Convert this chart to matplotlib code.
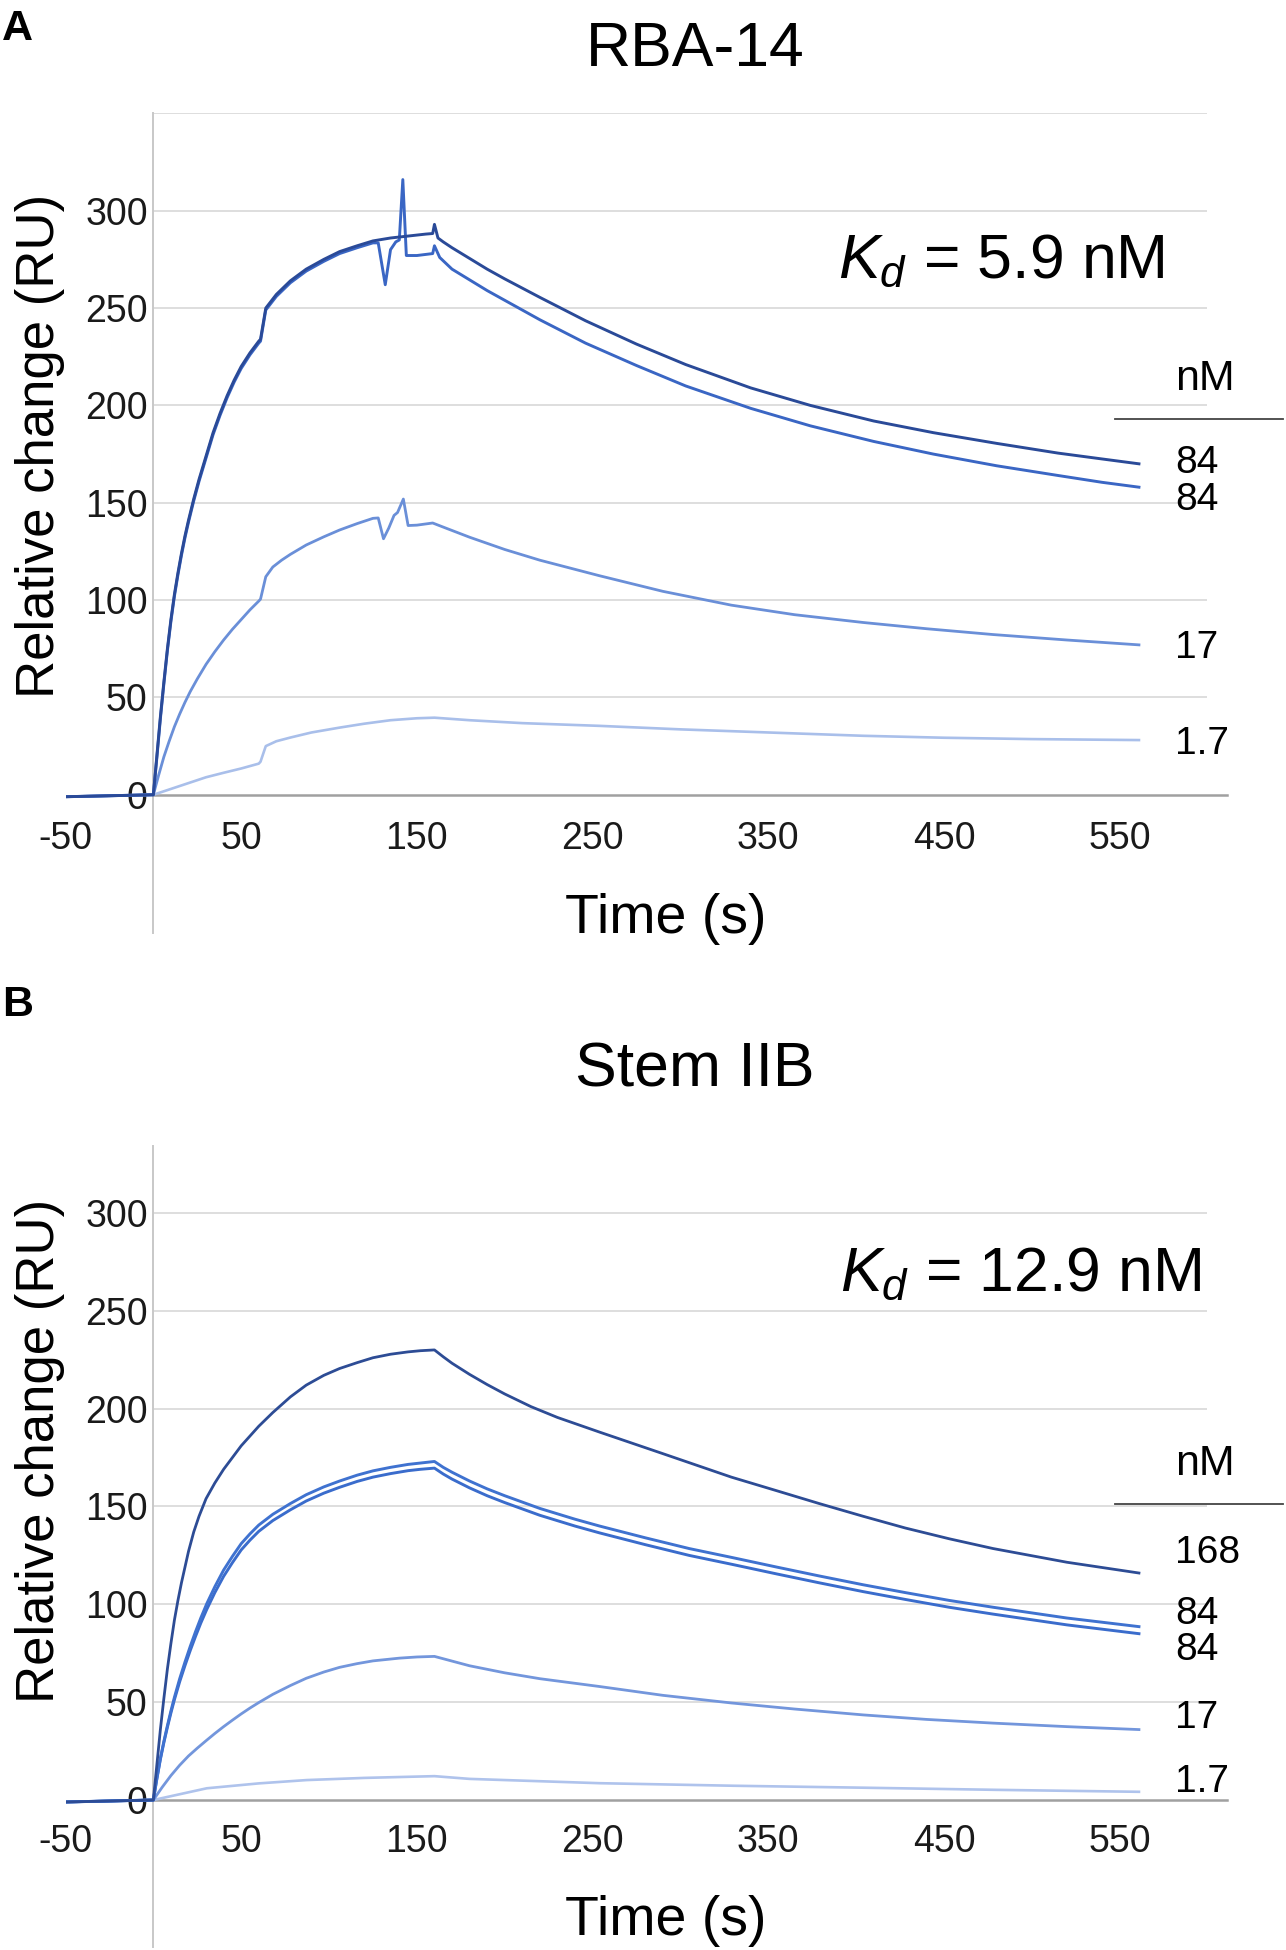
import matplotlib
matplotlib.use("Agg")
import matplotlib.pyplot as plt
from matplotlib.lines import Line2D

plt.rcParams['font.family'] = ['Liberation Sans', 'DejaVu Sans']
plt.rcParams['mathtext.fontset'] = 'custom'
plt.rcParams['mathtext.rm'] = 'Liberation Sans'
plt.rcParams['mathtext.it'] = 'Liberation Sans:italic'
plt.rcParams['axes.unicode_minus'] = False

# ---------------- Panel A: RBA-14 ----------------
a_t_84a = [-50, 0, 2, 4, 6, 8, 10, 12, 14, 16, 18, 20, 23, 26, 30, 34, 38, 42, 46, 50, 55, 60, 61,
           64, 70, 78, 87, 97, 106, 116, 125, 135, 145, 155, 159, 160, 162, 165, 170, 180, 190,
           200, 220, 246, 275, 303, 340, 374, 410, 444, 480, 515, 540, 561]
a_v_84a = [-1, 0, 20, 40, 58, 75, 90, 103, 114, 124, 133, 141, 152, 162, 174, 186, 196, 205, 213,
           220, 227, 233, 234, 250, 257, 264, 270, 275, 279, 282, 284.5, 286, 287, 288, 288.3,
           293, 286, 284, 281, 275.5, 270, 265, 255.5, 243.5, 231.5, 221, 209, 200, 192, 186,
           180.5, 175.5, 172.5, 170]

a_t_84b = [-50, 0, 2, 4, 6, 8, 10, 12, 14, 16, 18, 20, 23, 26, 30, 34, 38, 42, 46, 50, 55, 60, 61,
           64, 70, 78, 87, 97, 106, 116, 125, 128, 132, 135, 138, 140, 142, 144, 150, 159, 160,
           163, 170, 180, 190, 200, 220, 246, 275, 303, 340, 374, 410, 444, 480, 515, 540, 561]
a_v_84b = [-1, 0, 19, 39, 57, 74, 89, 102, 113, 123, 132, 140, 151, 161, 173, 185, 195, 204, 212,
           219, 226, 232, 233, 249, 256, 263, 269, 274, 278, 281, 283.5, 283.5, 262, 280, 284, 285,
           316, 277, 277, 278, 282, 276, 270, 264.5, 259, 254, 244, 232, 220.5, 210, 198.5, 189.5,
           181.5, 175, 169, 164, 160.5, 158]

a_t_17 = [-50, 0, 3, 6, 9, 12, 15, 18, 21, 25, 30, 35, 40, 45, 50, 55, 60, 61, 64, 68, 73, 78, 87,
          97, 106, 116, 125, 128, 131, 134, 137, 139, 142.3, 145, 150, 159, 165, 180, 200, 220,
          254, 290, 329, 365, 404, 440, 478, 520, 561]
a_v_17 = [-1, 0, 10, 19.5, 27.5, 35, 41.5, 47.5, 53, 59.5, 67, 73.5, 79.5, 85, 90, 95, 99.5, 100.5,
          112, 117, 120.5, 123.5, 128.3, 132.5, 136, 139.3, 142, 142.2, 131.5, 137, 143.5, 145,
          151.9, 138.3, 138.5, 139.6, 137.5, 132.3, 126, 120.5, 112.5, 104.5, 97.4, 92.5, 88.5,
          85.3, 82.3, 79.5, 77]

a_t_1p7 = [-50, 0, 10, 20, 30, 40, 50, 60, 61, 64, 70, 78, 90, 106, 120, 135, 150, 160, 180, 210,
           254, 300, 350, 404, 450, 500, 561]
a_v_1p7 = [-1, 0, 3, 6, 9, 11.3, 13.5, 16, 17, 25, 27.5, 29.4, 32, 34.5, 36.5, 38.3, 39.3, 39.6,
           38.3, 36.8, 35.4, 33.6, 32, 30.3, 29.3, 28.6, 28.1]

# ---------------- Panel B: Stem IIB ----------------
b_t_168 = [-50, 0, 2, 4, 6, 8, 10, 12, 14, 16, 18, 20, 23, 26, 30, 35, 40, 45, 50, 55, 60, 68, 78,
           87, 97, 106, 116, 125, 135, 145, 152, 160, 165, 170, 180, 190, 200, 215, 230, 254,
           290, 329, 355, 379, 404, 428, 453, 478, 520, 561]
b_v_168 = [-1, 0, 18, 36, 52, 67, 80, 92, 102, 111, 119, 127, 137, 145, 154, 162, 169, 175, 181,
           186, 191, 198, 206, 212, 217, 220.5, 223.5, 226, 227.8, 229, 229.6, 230, 226.5, 223.2,
           217.5, 212.3, 207.5, 201, 195.5, 188, 177, 165, 158, 151.5, 145, 139, 133.5, 128.5,
           121.5, 116]

b_t_84 = [-50, 0, 2, 4, 6, 8, 10, 12, 15, 18, 21, 24, 27, 30.4, 35, 40, 45, 50, 55, 60, 68, 78,
          87, 97, 106, 116, 125, 135, 145, 152, 160, 165, 170, 180, 190, 200, 220, 240, 254, 280,
          305, 329, 355, 379, 404, 428, 453, 478, 520, 561]
b_v_84a = [-1, 0, 11, 21.2, 30, 38, 45.5, 52.5, 62, 70.5, 78.5, 86, 93, 100.3, 109, 117.5, 124.5,
           131, 136, 140.5, 146, 151.5, 156, 160, 163, 166, 168.2, 170, 171.5, 172.2, 173, 170,
           167.5, 163, 159, 155.5, 149, 143.5, 140, 134, 128.5, 124, 119, 114.5, 110, 106, 102,
           98.5, 93, 88.6]
b_v_84b = [-1, 0, 10.8, 20.8, 29.4, 37.2, 44.5, 51.3, 60.5, 68.7, 76.4, 83.6, 90.4, 97.4, 106,
           114.3, 121.3, 127.8, 132.8, 137.3, 142.8, 148.3, 152.8, 156.8, 159.8, 162.8, 165,
           166.8, 168.3, 169, 169.6, 166.6, 164, 159.5, 155.5, 152, 145.5, 140, 136.5, 130.5, 125,
           120.5, 115.5, 111, 106.5, 102.5, 98.5, 95, 89.5, 85]

b_t_17 = [-50, 0, 5, 10, 15, 20, 25, 30, 35, 40, 45, 50, 55, 60, 68, 78, 87, 97, 106, 116, 125,
          140, 150, 160, 170, 180, 200, 220, 254, 290, 329, 365, 404, 440, 478, 520, 561]
b_v_17 = [-1, 0, 6.5, 12.5, 17.8, 22.5, 26.5, 30.3, 34, 37.5, 40.8, 44, 47, 49.8, 54, 58.5, 62.2,
          65.4, 67.8, 69.7, 71.1, 72.5, 73.1, 73.4, 71, 68.6, 65, 62, 58, 53.5, 49.6, 46.5, 43.5,
          41.2, 39.3, 37.5, 36]

b_t_1p7 = [-50, 0, 30.4, 60, 87.3, 120, 160, 180, 254, 330, 404, 480, 561]
b_v_1p7 = [-1, 0, 6, 8.5, 10.2, 11.3, 12.2, 10.8, 8.6, 7.3, 6.3, 5.2, 4.2]

x_ticks = [-50, 50, 150, 250, 350, 450, 550]
y_ticks = [0, 50, 100, 150, 200, 250, 300]

W, H = 1286, 1950
fig = plt.figure(figsize=(W / 100, H / 100), dpi=100)


def fx(x):
    return x / W


def fy(y):
    return 1 - y / H


def setup(ax, ylim, grid_vals, pad_x):
    ax.set_xlim(-50, 611)
    ax.set_ylim(*ylim)
    for s in ['top', 'right']:
        ax.spines[s].set_visible(False)
    ax.spines['left'].set_position(('data', 0))
    ax.spines['left'].set_bounds(ylim[0], ylim[1])
    ax.spines['left'].set_color('#c8c8c8')
    ax.spines['left'].set_linewidth(1.4)
    ax.spines['bottom'].set_position(('data', 0))
    ax.spines['bottom'].set_bounds(0, 611)
    ax.spines['bottom'].set_color('#a0a0a0')
    ax.spines['bottom'].set_linewidth(1.8)
    ax.set_xticks(x_ticks)
    ax.set_yticks(y_ticks)
    ax.tick_params(axis='both', length=0, labelsize=27, labelcolor='#1a1a1a')
    ax.tick_params(axis='y', pad=4)
    ax.tick_params(axis='x', pad=pad_x)
    ax.hlines(grid_vals, 0, 600, colors='#dedede', linewidth=1.4, zorder=0)
    ax.patch.set_alpha(0)


# Panel A
ax1 = fig.add_axes([fx(65.5), fy(933), (1226.8 - 65.5) / W, (933 - 113.4) / H])
setup(ax1, (-71, 350), [50, 100, 150, 200, 250, 300, 350], 19)
ax1.plot(a_t_1p7, a_v_1p7, color='#a9bfea', lw=1.9, zorder=3)
ax1.plot(a_t_17, a_v_17, color='#6a8fd8', lw=2.0, zorder=3)
ax1.plot(a_t_84b, a_v_84b, color='#3a66c4', lw=2.1, zorder=4)
ax1.plot(a_t_84a, a_v_84a, color='#2a4a98', lw=2.1, zorder=5)

# Panel B
ax2 = fig.add_axes([fx(65.5), fy(1946.8), (1226.8 - 65.5) / W, (1946.8 - 1146.4) / H])
setup(ax2, (-75, 334), [50, 100, 150, 200, 250, 300], 17)
ax2.plot(b_t_1p7, b_v_1p7, color='#afc3ec', lw=1.9, zorder=3)
ax2.plot(b_t_17, b_v_17, color='#7396dc', lw=2.0, zorder=3)
ax2.plot(b_t_84, b_v_84b, color='#3a6ccc', lw=2.1, zorder=4)
ax2.plot(b_t_84, b_v_84a, color='#3f72d0', lw=2.1, zorder=4)
ax2.plot(b_t_168, b_v_168, color='#2d4c95', lw=2.0, zorder=5)

# Titles and panel letters
fig.text(fx(695), fy(50), 'RBA-14', fontsize=45, ha='center', va='center')
fig.text(fx(695), fy(1070), 'Stem IIB', fontsize=45, ha='center', va='center')
fig.text(fx(2), fy(29), 'A', fontsize=31, fontweight='bold', ha='left', va='center')
fig.text(fx(2), fy(1005), 'B', fontsize=31, fontweight='bold', ha='left', va='center')

# Axis labels
fig.text(fx(666), fy(933), 'Time (s)', fontsize=40, ha='center', va='baseline')
fig.text(fx(666), fy(1935), 'Time (s)', fontsize=40, ha='center', va='baseline')
fig.text(fx(40), fy(446), 'Relative change (RU)', fontsize=38, rotation=90,
         ha='center', va='center')
fig.text(fx(40), fy(1451), 'Relative change (RU)', fontsize=38, rotation=90,
         ha='center', va='center')

# Kd annotations
fig.text(fx(838), fy(278), r'$K_d$ = 5.9 nM', fontsize=45, ha='left', va='baseline')
fig.text(fx(840), fy(1291), r'$K_d$ = 12.9 nM', fontsize=45, ha='left', va='baseline')

# Concentration labels
conc_a = ['84', '84', '17', '1.7']
conc_a_y = [463, 500, 648, 744]
conc_b = ['168', '84', '84', '17', '1.7']
conc_b_y = [1553, 1614, 1650, 1718, 1782]

fig.text(fx(1175), fy(379), 'nM', fontsize=31, ha='left', va='center')
fig.add_artist(Line2D([fx(1115), fx(1283)], [fy(419), fy(419)], color='#444444', lw=1.3))
for lab, yy in zip(conc_a, conc_a_y):
    fig.text(fx(1175), fy(yy), lab, fontsize=28, ha='left', va='center')

fig.text(fx(1175), fy(1464), 'nM', fontsize=31, ha='left', va='center')
fig.add_artist(Line2D([fx(1115), fx(1283)], [fy(1504), fy(1504)], color='#444444', lw=1.3))
for lab, yy in zip(conc_b, conc_b_y):
    fig.text(fx(1175), fy(yy), lab, fontsize=28, ha='left', va='center')

fig.savefig('out.png', dpi=100, facecolor='white')
